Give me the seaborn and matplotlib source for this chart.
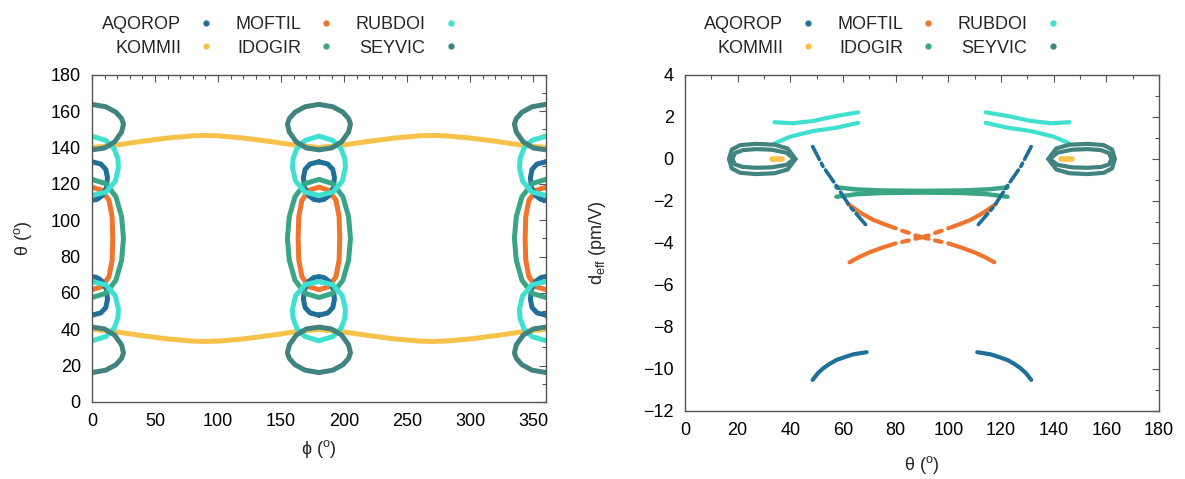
import numpy as np
import pandas as pd
import matplotlib
matplotlib.use("Agg")
import matplotlib.pyplot as plt
from matplotlib.lines import Line2D
import seaborn as sns

nan = np.nan

# colours (gnuplot-like palette)
COLORS = {
    "AQOROP": "#1f6f98",
    "MOFTIL": "#f0742e",
    "RUBDOI": "#3fe0cf",
    "KOMMII": "#f7c24a",
    "IDOGIR": "#3aa585",
    "SEYVIC": "#41837f",
}
LEGEND_ORDER = ["AQOROP", "KOMMII", "MOFTIL", "IDOGIR", "RUBDOI", "SEYVIC"]

# ---------------- left panel: theta vs phi ----------------
# loops repeat at these phi positions
PHI_CENTERS = [0, 180, 360]

SEYVIC_DPHI = [0, 11, 19, 23.5, 25, 23.5, 18, 10, 0, -10, -18, -23.5, -25, -23.5, -19, -11, 0]
SEYVIC_UP_TH = [163.8, 162.5, 159.5, 156, 153, 148.6, 143.2, 139.8, 138.8, 139.8, 143.2, 148.6, 153, 156, 159.5, 162.5, 163.8]
SEYVIC_LO_TH = [16.2, 17.5, 20.5, 24, 27, 31.4, 36.8, 40.2, 41.2, 40.2, 36.8, 31.4, 27, 24, 20.5, 17.5, 16.2]

RUBDOI_DPHI = [0, 11, 17.5, 20.5, 21, 18.5, 11, 0, -11, -18.5, -21, -20.5, -17.5, -11, 0]
RUBDOI_UP_TH = [146.3, 144, 139.5, 134, 129, 121.5, 115.5, 113.7, 115.5, 121.5, 129, 134, 139.5, 144, 146.3]
RUBDOI_LO_TH = [33.7, 36, 40.5, 46, 51, 58.5, 64.5, 66.3, 64.5, 58.5, 51, 46, 40.5, 36, 33.7]

AQOROP_DPHI = [0, 7, 11, 12.3, 11.5, 8, 4, 0, -4, -8, -11.5, -12.3, -11, -7, 0]
AQOROP_UP_TH = [132.2, 131, 128, 123.5, 118, 113.5, 111.5, 111, 111.5, 113.5, 118, 123.5, 128, 131, 132.2]
AQOROP_LO_TH = [47.8, 49, 52, 56.5, 62, 66.5, 68.5, 69, 68.5, 66.5, 62, 56.5, 52, 49, 47.8]

IDOGIR_DPHI = [0, 11, 19, 23.5, 25, 23.5, 19, 11, 0, -11, -19, -23.5, -25, -23.5, -19, -11, 0]
IDOGIR_TH = [122.5, 120.2, 113, 102, 90, 78, 67, 59.8, 57.5, 59.8, 67, 78, 90, 102, 113, 120.2, 122.5]

MOFTIL_DPHI = [0, 8, 13.5, 16, 16.5, 16, 13.5, 8, 0, -8, -13.5, -16, -16.5, -16, -13.5, -8, 0]
MOFTIL_TH = [118.2, 116.5, 111, 102, 90, 78, 69, 63.5, 61.8, 63.5, 69, 78, 90, 102, 111, 116.5, 118.2]

KOMMII_PHI = [0, 20, 40, 60, 80, 90, 100, 120, 140, 160, 180, 200, 220, 240, 260, 270, 280, 300, 320, 340, 360]
KOMMII_UP_TH = [140, 141.5, 143.5, 145.3, 146.5, 146.7, 146.5, 145.3, 143.5, 141.5, 140,
                141.5, 143.5, 145.3, 146.5, 146.7, 146.5, 145.3, 143.5, 141.5, 140]
KOMMII_LO_TH = [40, 38.5, 36.5, 34.7, 33.5, 33.3, 33.5, 34.7, 36.5, 38.5, 40,
                38.5, 36.5, 34.7, 33.5, 33.3, 33.5, 34.7, 36.5, 38.5, 40]

# ---------------- right panel: d_eff vs theta ----------------
# NaN separates pieces of one series
RUBDOI_R_TH = [34, 41, 48.7, 57.6, 65.8, nan, 34.2, 39.9, 48.7, 57.6, 65.8, nan,
               114.2, 122.4, 131.3, 139, 146, nan, 114.2, 122.4, 131.3, 140.1, 145.8]
RUBDOI_R_D = [1.75, 1.70, 1.81, 2.05, 2.22, nan, 0.75, 1.06, 1.33, 1.49, 1.72, nan,
              2.22, 2.05, 1.81, 1.70, 1.75, nan, 1.72, 1.49, 1.33, 1.06, 0.75]

SEYVIC_R_TH = [42, 39, 34, 27, 21, 17.8, 16.7, 17.8, 21, 27, 34, 39, 42, nan,
               41.5, 38.5, 33, 27, 22, 19, 18, 19, 22, 27, 33, 38.5, 41.5, nan,
               138, 141, 146, 153, 159, 162.2, 163.3, 162.2, 159, 153, 146, 141, 138, nan,
               138.5, 141.5, 147, 153, 158, 161, 162, 161, 158, 153, 147, 141.5, 138.5]
SEYVIC_R_D = [0.0, 0.5, 0.68, 0.72, 0.66, 0.45, 0.0, -0.45, -0.66, -0.72, -0.68, -0.5, 0.0, nan,
              0.0, 0.3, 0.44, 0.47, 0.42, 0.28, 0.0, -0.26, -0.38, -0.42, -0.4, -0.28, 0.0, nan,
              0.0, 0.5, 0.68, 0.72, 0.66, 0.45, 0.0, -0.45, -0.66, -0.72, -0.68, -0.5, 0.0, nan,
              0.0, 0.3, 0.44, 0.47, 0.42, 0.28, 0.0, -0.26, -0.38, -0.42, -0.4, -0.28, 0.0]

KOMMII_R_TH = [33, 37, nan, 143, 147]
KOMMII_R_D = [0, 0, nan, 0, 0]

IDOGIR_R_TH = [57.5, 65, 75, 90, 105, 115, 122.5, nan, 57.5, 65, 75, 90, 105, 115, 122.5]
IDOGIR_R_D = [-1.35, -1.45, -1.5, -1.52, -1.5, -1.45, -1.35, nan,
              -1.8, -1.68, -1.62, -1.6, -1.62, -1.68, -1.8]

AQOROP_R_TH = [48.5, 52.5, 57.6, 62.7, 68.7, nan, 131.5, 127.5, 122.4, 117.3, 111.3]
AQOROP_R_D = [0.59, -0.37, -1.29, -2.27, -3.14, nan, 0.59, -0.37, -1.29, -2.27, -3.14]
AQOROP_ARC_TH = [48.5, 50.5, 52.5, 55, 57.6, 61, 64, 66.5, 69, nan,
                 111, 113.5, 116, 119, 122.4, 125, 127.5, 129.5, 131.5]
AQOROP_ARC_D = [-10.52, -10.2, -9.97, -9.75, -9.57, -9.42, -9.30, -9.25, -9.2, nan,
                -9.2, -9.25, -9.3, -9.42, -9.57, -9.75, -9.97, -10.2, -10.52]

MOFTIL_R_TH = [62, 66.5, 71.5, 76, 80, nan, 82.5, 85, nan, 87.5, 92.5, nan, 95, 97.5, nan,
               100, 105, 110, 114, 117.5, nan,
               62.5, 66, 70, 75, 80, nan, 82.5, 85, nan, 87.5, 92.5, nan, 95, 97.5, nan,
               100, 104, 108.5, 113.5, 118]
MOFTIL_R_D = [-2.15, -2.55, -2.9, -3.12, -3.3, nan, -3.42, -3.52, nan, -3.64, -3.8, nan, -3.88, -3.95, nan,
              -4.02, -4.22, -4.45, -4.68, -4.92, nan,
              -4.92, -4.68, -4.45, -4.22, -4.02, nan, -3.95, -3.88, nan, -3.8, -3.64, nan, -3.52, -3.42, nan,
              -3.3, -3.12, -2.9, -2.55, -2.15]


def split_pieces(xs, ys):
    xs = np.asarray(xs, float)
    ys = np.asarray(ys, float)
    df = pd.DataFrame({"x": xs, "y": ys})
    df["piece"] = df["x"].isna().cumsum()
    df = df.dropna()
    return [g for _, g in df.groupby("piece")]


def draw(ax, xs, ys, name, lw=3.6, **kw):
    for g in split_pieces(xs, ys):
        sns.lineplot(data=g, x="x", y="y", sort=False, estimator=None, ax=ax,
                     color=COLORS[name], lw=lw, solid_capstyle="round",
                     dash_capstyle="round", legend=False, **kw)


sns.set_theme(style="white")
plt.rcParams["font.family"] = ["Liberation Sans", "DejaVu Sans"]
plt.rcParams["mathtext.fontset"] = "custom"
plt.rcParams["mathtext.rm"] = "Liberation Sans"
plt.rcParams["mathtext.it"] = "Liberation Sans:italic"
plt.rcParams["axes.unicode_minus"] = True

fig = plt.figure(figsize=(11.85, 4.79), dpi=100)
ax1 = fig.add_axes([0.0776, 0.1608, 0.3831, 0.6827])
ax2 = fig.add_axes([0.578, 0.142, 0.4, 0.7015])

# left panel
draw(ax1, KOMMII_PHI, KOMMII_UP_TH, "KOMMII")
draw(ax1, KOMMII_PHI, KOMMII_LO_TH, "KOMMII")
for c in PHI_CENTERS:
    draw(ax1, np.add(MOFTIL_DPHI, c), MOFTIL_TH, "MOFTIL")
    draw(ax1, np.add(AQOROP_DPHI, c), AQOROP_UP_TH, "AQOROP")
    draw(ax1, np.add(AQOROP_DPHI, c), AQOROP_LO_TH, "AQOROP")
    draw(ax1, np.add(IDOGIR_DPHI, c), IDOGIR_TH, "IDOGIR")
    draw(ax1, np.add(RUBDOI_DPHI, c), RUBDOI_UP_TH, "RUBDOI")
    draw(ax1, np.add(RUBDOI_DPHI, c), RUBDOI_LO_TH, "RUBDOI")
    draw(ax1, np.add(SEYVIC_DPHI, c), SEYVIC_UP_TH, "SEYVIC")
    draw(ax1, np.add(SEYVIC_DPHI, c), SEYVIC_LO_TH, "SEYVIC")

# right panel
draw(ax2, RUBDOI_R_TH, RUBDOI_R_D, "RUBDOI", lw=3.0)
draw(ax2, SEYVIC_R_TH, SEYVIC_R_D, "SEYVIC", lw=3.0)
draw(ax2, KOMMII_R_TH, KOMMII_R_D, "KOMMII", lw=4.0)
draw(ax2, IDOGIR_R_TH, IDOGIR_R_D, "IDOGIR", lw=3.2)
draw(ax2, MOFTIL_R_TH, MOFTIL_R_D, "MOFTIL", lw=3.0)
draw(ax2, AQOROP_R_TH, AQOROP_R_D, "AQOROP", lw=2.6, dashes=(4, 1.2, 1, 1.2))
draw(ax2, AQOROP_ARC_TH, AQOROP_ARC_D, "AQOROP", lw=3.0)

# axes styling (gnuplot look: inward mirrored ticks)
for ax, xl, yl, xmaj, xmin, ymaj, ymin in [
    (ax1, (0, 360), (0, 180), 50, 10, 20, 10),
    (ax2, (0, 180), (-12, 4), 20, 10, 2, 1),
]:
    ax.set_xlim(*xl)
    ax.set_ylim(*yl)
    ax.set_xticks(np.arange(xl[0], xl[1] + 1, xmaj))
    ax.set_xticks(np.arange(xl[0], xl[1] + 1, xmin), minor=True)
    ax.set_yticks(np.arange(yl[0], yl[1] + 1, ymaj))
    ax.set_yticks(np.arange(yl[0], yl[1] + 1, ymin), minor=True)
    ax.tick_params(which="both", direction="in", top=True, right=True,
                   colors="#555555", labelcolor="black", labelsize=13, width=0.8)
    ax.tick_params(which="major", length=5, pad=8)
    ax.tick_params(which="minor", length=3)
    for s in ax.spines.values():
        s.set_color("#555555")
        s.set_linewidth(1.0)

ax1.set_xlabel("ϕ ($^{\\rm o}$)", fontsize=13)
ax1.set_ylabel("θ ($^{\\rm o}$)", fontsize=13)
ax2.set_xlabel("θ ($^{\\rm o}$)", fontsize=13)
ax2.set_ylabel("d$_{\\rm eff}$ (pm/V)", fontsize=13)
ax1.xaxis.set_label_coords(0.5, -0.110)
ax1.yaxis.set_label_coords(-0.128, 0.5)
ax2.xaxis.set_label_coords(0.5, -0.128)
ax2.yaxis.set_label_coords(-0.162, 0.5)

# legends above each panel
handles = [Line2D([], [], ls="", marker="o", markersize=3.5, color=COLORS[n]) for n in LEGEND_ORDER]
for x0 in [93 / 1185, 695 / 1185]:
    fig.legend(handles, LEGEND_ORDER, loc="upper left", bbox_to_anchor=(x0, 0.985),
               ncol=3, markerfirst=False, frameon=False, fontsize=13, borderpad=0,
               handlelength=1.0, handletextpad=0.9, columnspacing=1.1, labelspacing=0.35)

fig.savefig("out.png", dpi=100)
